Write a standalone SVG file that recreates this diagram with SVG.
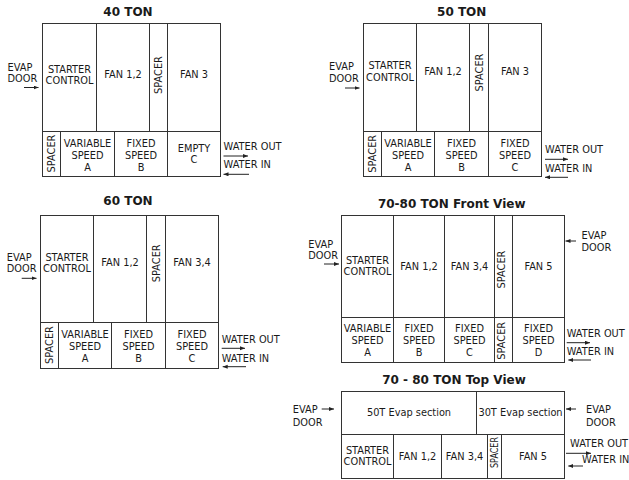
<svg xmlns="http://www.w3.org/2000/svg" width="629" height="480" viewBox="0 0 629 480">
<style>
rect.c{fill:#fff;stroke:#333;stroke-width:1}
text{font-family:"DejaVu Sans",Verdana,sans-serif;font-size:9.8px;fill:#1a1a1a;text-anchor:middle}
text.l{text-anchor:start}
text.h{font-weight:bold;font-size:12px}
line.a{stroke:#222;stroke-width:1;marker-end:url(#ah)}
</style>
<defs>
<marker id="ah" markerUnits="userSpaceOnUse" markerWidth="6" markerHeight="5" refX="5" refY="2" orient="auto">
<path d="M0,0 L5,2 L0,4 z" fill="#222"/>
</marker>
</defs>
<rect width="629" height="480" fill="#fff"/>

<!-- 40 TON -->
<g id="t40">
<text class="h" x="128" y="16">40 TON</text>
<g id="t40-starter"><rect class="c" x="42.5" y="23.5" width="54" height="108"/><text x="69.5" y="72.5">STARTER</text><text x="69.5" y="84.1">CONTROL</text></g>
<g id="t40-fan12"><rect class="c" x="96.5" y="23.5" width="53" height="108"/><text x="123" y="78.3">FAN 1,2</text></g>
<g id="t40-spacer1"><rect class="c" x="149.5" y="23.5" width="18" height="108"/><text transform="translate(158.5,75) rotate(-90)" y="3.6">SPACER</text></g>
<g id="t40-fan3"><rect class="c" x="167.5" y="23.5" width="53" height="108"/><text x="194" y="78.3">FAN 3</text></g>
<g id="t40-spacer2"><rect class="c" x="42.5" y="131.5" width="18" height="45"/><text transform="translate(51.2,153.5) rotate(-90)" y="3.6">SPACER</text></g>
<g id="t40-vsa"><rect class="c" x="60.5" y="131.5" width="54" height="45"/><text x="87.5" y="147.3">VARIABLE</text><text x="87.5" y="158.9">SPEED</text><text x="87.5" y="170.5">A</text></g>
<g id="t40-fsb"><rect class="c" x="114.5" y="131.5" width="53" height="45"/><text x="141" y="147.3">FIXED</text><text x="141" y="158.9">SPEED</text><text x="141" y="170.5">B</text></g>
<g id="t40-empty"><rect class="c" x="167.5" y="131.5" width="53" height="45"/><text x="194" y="151.8">EMPTY</text><text x="194" y="163.4">C</text></g>
<g id="t40-labels"><text class="l" x="7.5" y="70.5">EVAP</text><text class="l" x="7.5" y="82.3">DOOR</text>
<text class="l" x="223.5" y="150">WATER OUT</text><text class="l" x="223.5" y="167.8">WATER IN</text></g>
</g>

<!-- 50 TON -->
<g id="t50">
<text class="h" x="461.7" y="16">50 TON</text>
<g id="t50-starter"><rect class="c" x="363.5" y="23.5" width="53" height="108"/><text x="390" y="69.3">STARTER</text><text x="390" y="80.9">CONTROL</text></g>
<g id="t50-fan12"><rect class="c" x="416.5" y="23.5" width="53" height="108"/><text x="443" y="75.1">FAN 1,2</text></g>
<g id="t50-spacer1"><rect class="c" x="469.5" y="23.5" width="19" height="108"/><text transform="translate(479.3,72.5) rotate(-90)" y="3.6">SPACER</text></g>
<g id="t50-fan3"><rect class="c" x="488.5" y="23.5" width="53" height="108"/><text x="515" y="75.1">FAN 3</text></g>
<g id="t50-spacer2"><rect class="c" x="363.5" y="131.5" width="18" height="45"/><text transform="translate(372,153.8) rotate(-90)" y="3.6">SPACER</text></g>
<g id="t50-vsa"><rect class="c" x="381.5" y="131.5" width="53" height="45"/><text x="408" y="147.3">VARIABLE</text><text x="408" y="158.9">SPEED</text><text x="408" y="170.5">A</text></g>
<g id="t50-fsb"><rect class="c" x="434.5" y="131.5" width="54" height="45"/><text x="461.5" y="147.3">FIXED</text><text x="461.5" y="158.9">SPEED</text><text x="461.5" y="170.5">B</text></g>
<g id="t50-fsc"><rect class="c" x="488.5" y="131.5" width="53" height="45"/><text x="515" y="147.3">FIXED</text><text x="515" y="158.9">SPEED</text><text x="515" y="170.5">C</text></g>
<g id="t50-labels"><text class="l" x="329" y="70">EVAP</text><text class="l" x="329" y="81.7">DOOR</text>
<text class="l" x="545" y="153.3">WATER OUT</text><text class="l" x="545" y="171.7">WATER IN</text></g>
</g>

<!-- 60 TON -->
<g id="t60">
<text class="h" x="128" y="205">60 TON</text>
<g id="t60-starter"><rect class="c" x="40.5" y="215.5" width="53" height="107"/><text x="67" y="260.6">STARTER</text><text x="67" y="272.2">CONTROL</text></g>
<g id="t60-fan12"><rect class="c" x="93.5" y="215.5" width="53" height="107"/><text x="120" y="266.4">FAN 1,2</text></g>
<g id="t60-spacer1"><rect class="c" x="146.5" y="215.5" width="19" height="107"/><text transform="translate(156.5,263.3) rotate(-90)" y="3.6">SPACER</text></g>
<g id="t60-fan34"><rect class="c" x="165.5" y="215.5" width="53" height="107"/><text x="192" y="266.4">FAN 3,4</text></g>
<g id="t60-spacer2"><rect class="c" x="40.5" y="322.5" width="18" height="46"/><text transform="translate(49.3,345) rotate(-90)" y="3.6">SPACER</text></g>
<g id="t60-vsa"><rect class="c" x="58.5" y="322.5" width="53" height="46"/><text x="85" y="338.3">VARIABLE</text><text x="85" y="349.9">SPEED</text><text x="85" y="361.5">A</text></g>
<g id="t60-fsb"><rect class="c" x="111.5" y="322.5" width="54" height="46"/><text x="138.5" y="338.3">FIXED</text><text x="138.5" y="349.9">SPEED</text><text x="138.5" y="361.5">B</text></g>
<g id="t60-fsc"><rect class="c" x="165.5" y="322.5" width="53" height="46"/><text x="192" y="338.3">FIXED</text><text x="192" y="349.9">SPEED</text><text x="192" y="361.5">C</text></g>
<g id="t60-labels"><text class="l" x="6.7" y="261">EVAP</text><text class="l" x="6.7" y="272.3">DOOR</text>
<text class="l" x="221.7" y="343.3">WATER OUT</text><text class="l" x="221.7" y="361.7">WATER IN</text></g>
</g>

<!-- 70-80 TON Front View -->
<g id="t70f">
<text class="h" x="451.7" y="208.3">70-80 TON Front View</text>
<g id="t70f-starter"><rect class="c" x="341.5" y="215.5" width="52" height="102"/><text x="367.5" y="263.8">STARTER</text><text x="367.5" y="275.4">CONTROL</text></g>
<g id="t70f-fan12"><rect class="c" x="393.5" y="215.5" width="51" height="102"/><text x="419" y="269.6">FAN 1,2</text></g>
<g id="t70f-fan34"><rect class="c" x="444.5" y="215.5" width="50" height="102"/><text x="469.5" y="269.6">FAN 3,4</text></g>
<g id="t70f-spacer1"><rect class="c" x="494.5" y="215.5" width="18" height="102"/><text transform="translate(501,269.5) rotate(-90)" y="3.6">SPACER</text></g>
<g id="t70f-fan5"><rect class="c" x="512.5" y="215.5" width="52" height="102"/><text x="538.5" y="269.6">FAN 5</text></g>
<g id="t70f-vsa"><rect class="c" x="341.5" y="317.5" width="52" height="45"/><text x="367.5" y="332.3">VARIABLE</text><text x="367.5" y="343.9">SPEED</text><text x="367.5" y="355.5">A</text></g>
<g id="t70f-fsb"><rect class="c" x="393.5" y="317.5" width="51" height="45"/><text x="419" y="332.3">FIXED</text><text x="419" y="343.9">SPEED</text><text x="419" y="355.5">B</text></g>
<g id="t70f-fsc"><rect class="c" x="444.5" y="317.5" width="50" height="45"/><text x="469.5" y="332.3">FIXED</text><text x="469.5" y="343.9">SPEED</text><text x="469.5" y="355.5">C</text></g>
<g id="t70f-spacer2"><rect class="c" x="494.5" y="317.5" width="18" height="45"/><text transform="translate(501,340.8) rotate(-90)" y="3.6">SPACER</text></g>
<g id="t70f-fsd"><rect class="c" x="512.5" y="317.5" width="52" height="45"/><text x="538.5" y="332.3">FIXED</text><text x="538.5" y="343.9">SPEED</text><text x="538.5" y="355.5">D</text></g>
<g id="t70f-labels"><text class="l" x="308.3" y="247.7">EVAP</text><text class="l" x="308.3" y="259.3">DOOR</text>
<text class="l" x="581.5" y="239">EVAP</text><text class="l" x="581.5" y="250.5">DOOR</text>
<text class="l" x="566.7" y="336.7">WATER OUT</text><text class="l" x="566.7" y="355">WATER IN</text></g>
</g>

<!-- 70-80 TON Top View -->
<g id="t70t">
<text class="h" x="454" y="384">70 - 80 TON Top View</text>
<g id="t70t-evap50"><rect class="c" x="341.5" y="391.5" width="135" height="43"/><text x="409" y="415.8">50T Evap section</text></g>
<g id="t70t-evap30"><rect class="c" x="476.5" y="391.5" width="88" height="43"/><text x="520.5" y="415.8">30T Evap section</text></g>
<g id="t70t-starter"><rect class="c" x="341.5" y="434.5" width="52" height="44"/><text x="367.5" y="453.8">STARTER</text><text x="367.5" y="465.4">CONTROL</text></g>
<g id="t70t-fan12"><rect class="c" x="393.5" y="434.5" width="48" height="44"/><text x="417.5" y="459.6">FAN 1,2</text></g>
<g id="t70t-fan34"><rect class="c" x="441.5" y="434.5" width="46" height="44"/><text x="464.5" y="459.6">FAN 3,4</text></g>
<g id="t70t-spacer"><rect class="c" x="487.5" y="434.5" width="14" height="44"/><text transform="translate(494.5,452.5) rotate(-90)" y="3.4" textLength="31" lengthAdjust="spacingAndGlyphs">SPACER</text></g>
<g id="t70t-fan5"><rect class="c" x="501.5" y="434.5" width="63" height="44"/><text x="533" y="459.6">FAN 5</text></g>
<g id="t70t-labels"><text class="l" x="292.7" y="413.3">EVAP</text><text class="l" x="292.7" y="425.5">DOOR</text>
<text class="l" x="586" y="413.3">EVAP</text><text class="l" x="586" y="425.5">DOOR</text>
<text class="l" x="570" y="446.7">WATER OUT</text><text class="l" x="582" y="463">WATER IN</text></g>
</g>

<!-- connectors -->
<g id="connectors">
<line class="a" x1="24" y1="87.5" x2="38.5" y2="87.5"/>
<line class="a" x1="223.5" y1="156" x2="248" y2="156"/>
<line class="a" x1="249" y1="174.3" x2="223.5" y2="174.3"/>
<line class="a" x1="345" y1="88" x2="359.5" y2="88"/>
<line class="a" x1="545" y1="159.3" x2="568" y2="159.3"/>
<line class="a" x1="568" y1="177.3" x2="545" y2="177.3"/>
<line class="a" x1="21.7" y1="278.3" x2="36.5" y2="278.3"/>
<line class="a" x1="221.7" y1="348.3" x2="245" y2="348.3"/>
<line class="a" x1="246" y1="366.7" x2="222.7" y2="366.7"/>
<line class="a" x1="324" y1="264" x2="339" y2="264"/>
<line class="a" x1="576" y1="241" x2="565.5" y2="241"/>
<line class="a" x1="566.7" y1="342.7" x2="590" y2="342.7"/>
<line class="a" x1="591" y1="360" x2="568.3" y2="360"/>
<line class="a" x1="321.7" y1="409" x2="334" y2="409"/>
<line class="a" x1="576" y1="409" x2="566" y2="409"/>
<line class="a" x1="566" y1="453.3" x2="591" y2="453.3"/>
<line class="a" x1="583" y1="466" x2="568.3" y2="466"/>
</g>
</svg>
